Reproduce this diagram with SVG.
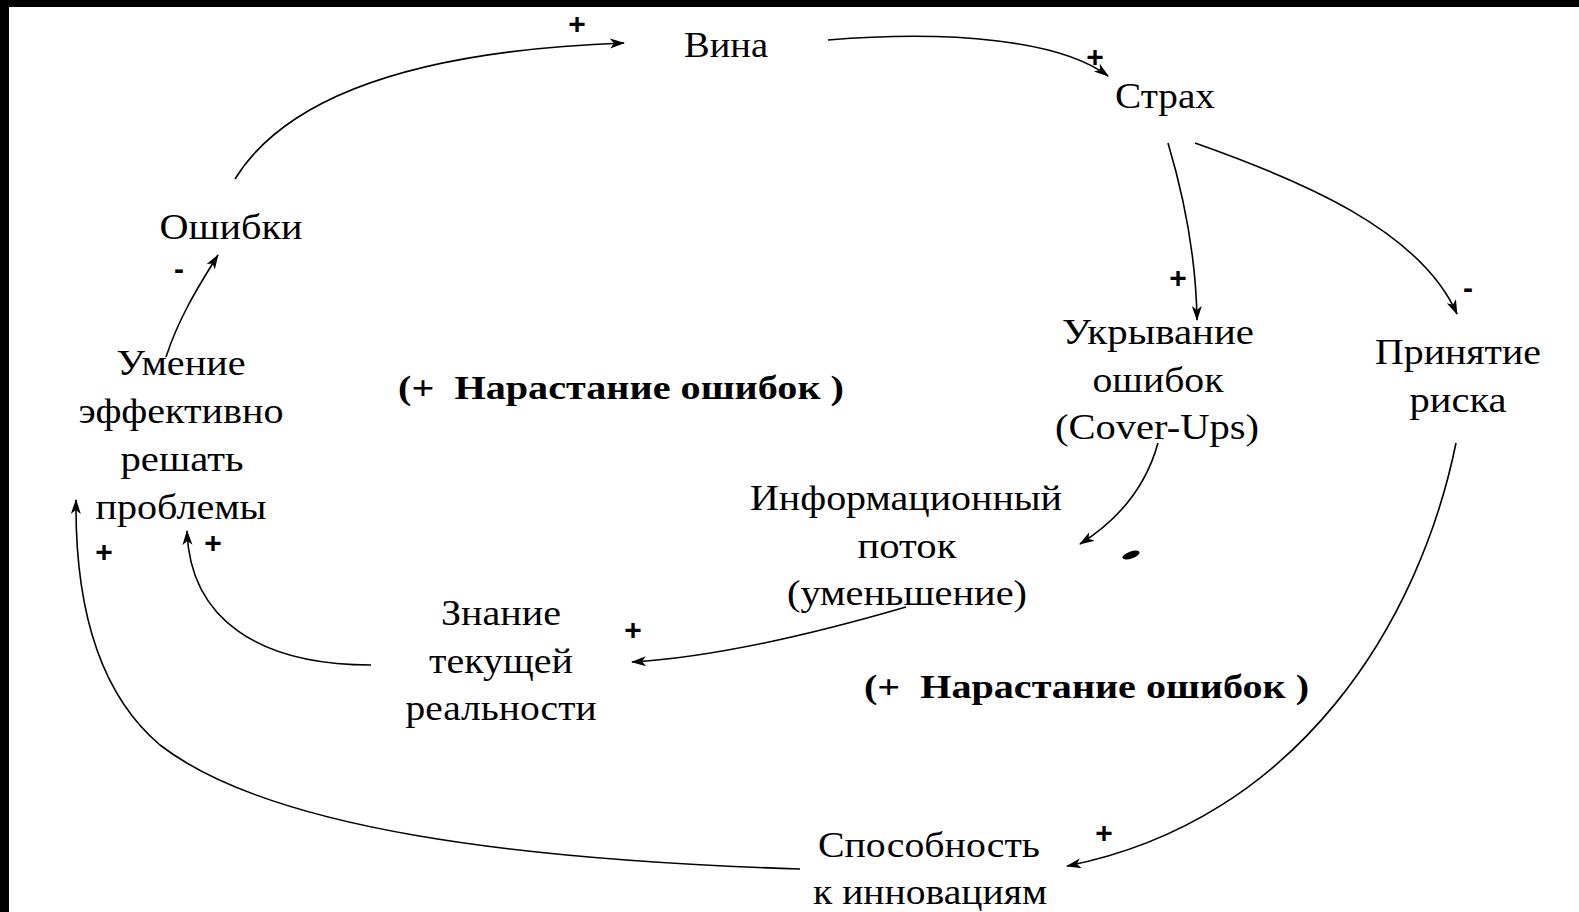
<svg xmlns="http://www.w3.org/2000/svg" width="1579" height="912" viewBox="0 0 1579 912">
<defs>
<marker id="ah" markerWidth="16" markerHeight="12" refX="14" refY="5" orient="auto" markerUnits="userSpaceOnUse">
<path d="M0,0 L15,5 L0,10 L4,5 z" fill="#000"/>
</marker>
<style>
.t{font-family:"Liberation Serif","Times New Roman",serif;font-size:36px;fill:#000;text-anchor:middle}
.b{font-family:"Liberation Serif","Times New Roman",serif;font-size:34px;font-weight:bold;fill:#000;white-space:pre}
.s{font-family:"Liberation Sans",Arial,sans-serif;font-size:30px;font-weight:bold;fill:#000;text-anchor:middle}
.c{fill:none;stroke:#000;stroke-width:1.6;marker-end:url(#ah)}
</style>
</defs>
<rect x="0" y="0" width="1579" height="912" fill="#fff"/>
<rect x="0" y="0" width="1579" height="7" fill="#000"/>
<rect x="0" y="0" width="9" height="912" fill="#000"/>

<g id="connectors">
<path class="c" d="M235,179 C290,90 430,50 624,43"/>
<path class="c" d="M828,40 C950,30 1060,40 1108,76"/>
<path class="c" d="M1168,143 C1182,190 1196,250 1197,320"/>
<path class="c" d="M1195,143 C1300,180 1420,230 1457,314"/>
<path class="c" d="M166,357 C178,320 196,290 218,255"/>
<path class="c" d="M1158,443 C1145,490 1115,522 1080,544"/>
<path class="c" d="M906,607 C820,632 720,657 632,662"/>
<path class="c" d="M371,665 C260,665 190,620 187,531"/>
<path class="c" d="M800,869 C520,860 270,830 160,745 C95,690 75,600 76,500"/>
<path class="c" d="M1456,443 C1420,620 1300,820 1067,866"/>
<ellipse cx="1131" cy="555" rx="9" ry="3.5" transform="rotate(-20 1131 555)" fill="#000"/>
</g>

<g id="vina"><text class="t" x="726" y="57" textLength="84" lengthAdjust="spacingAndGlyphs">Вина</text></g>
<g id="strah"><text class="t" x="1165" y="108" textLength="100" lengthAdjust="spacingAndGlyphs">Страх</text></g>
<g id="oshibki"><text class="t" x="231" y="239" textLength="143" lengthAdjust="spacingAndGlyphs">Ошибки</text></g>
<g id="umenie">
<text class="t" x="181" y="375" textLength="129" lengthAdjust="spacingAndGlyphs">Умение</text>
<text class="t" x="181" y="423" textLength="205" lengthAdjust="spacingAndGlyphs">эффективно</text>
<text class="t" x="182" y="471" textLength="123" lengthAdjust="spacingAndGlyphs">решать</text>
<text class="t" x="181" y="519" textLength="171" lengthAdjust="spacingAndGlyphs">проблемы</text>
</g>
<g id="loop1"><text class="b" x="398" y="399" textLength="446" lengthAdjust="spacingAndGlyphs" xml:space="preserve">(+  Нарастание ошибок )</text></g>
<g id="ukryvanie">
<text class="t" x="1158" y="344" textLength="192" lengthAdjust="spacingAndGlyphs">Укрывание</text>
<text class="t" x="1158" y="392" textLength="131" lengthAdjust="spacingAndGlyphs">ошибок</text>
<text class="t" x="1157" y="439" textLength="204" lengthAdjust="spacingAndGlyphs">(Cover-Ups)</text>
</g>
<g id="prinyatie">
<text class="t" x="1458" y="364" textLength="166" lengthAdjust="spacingAndGlyphs">Принятие</text>
<text class="t" x="1458" y="412" textLength="97" lengthAdjust="spacingAndGlyphs">риска</text>
</g>
<g id="info">
<text class="t" x="906" y="510" textLength="312" lengthAdjust="spacingAndGlyphs">Информационный</text>
<text class="t" x="907" y="558" textLength="99" lengthAdjust="spacingAndGlyphs">поток</text>
<text class="t" x="907" y="605" textLength="240" lengthAdjust="spacingAndGlyphs">(уменьшение)</text>
</g>
<g id="znanie">
<text class="t" x="501" y="625" textLength="120" lengthAdjust="spacingAndGlyphs">Знание</text>
<text class="t" x="501" y="673" textLength="144" lengthAdjust="spacingAndGlyphs">текущей</text>
<text class="t" x="501" y="720" textLength="191" lengthAdjust="spacingAndGlyphs">реальности</text>
</g>
<g id="loop2"><text class="b" x="864" y="698" textLength="445" lengthAdjust="spacingAndGlyphs" xml:space="preserve">(+  Нарастание ошибок )</text></g>
<g id="sposobnost">
<text class="t" x="929" y="857" textLength="222" lengthAdjust="spacingAndGlyphs">Способность</text>
<text class="t" x="930" y="904" textLength="234" lengthAdjust="spacingAndGlyphs">к инновациям</text>
</g>

<g id="signs">
<text class="s" x="577" y="34">+</text>
<text class="s" x="1095" y="67">+</text>
<text class="s" x="1178" y="288">+</text>
<text class="s" x="1468" y="298">-</text>
<text class="s" x="179" y="279">-</text>
<text class="s" x="104" y="562">+</text>
<text class="s" x="213" y="553">+</text>
<text class="s" x="633" y="640">+</text>
<text class="s" x="1104" y="843">+</text>
</g>
</svg>
